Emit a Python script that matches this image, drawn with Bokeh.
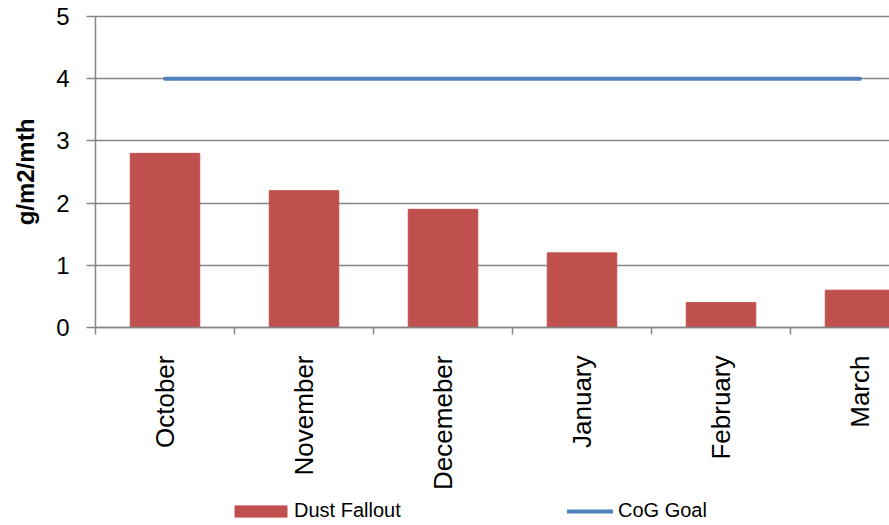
import math
from bokeh.plotting import figure
from bokeh.models import Range1d, FixedTicker, Legend, LegendItem, Label
from bokeh.embed import file_html
from bokeh.resources import INLINE

# Monthly dust fallout against the CoG goal
months = ["October", "November", "Decemeber", "January", "February", "March"]
dust_fallout = [2.8, 2.2, 1.9, 1.2, 0.4, 0.6]
cog_goal = [4, 4, 4, 4, 4, 4]
y_ticks = [0, 1, 2, 3, 4, 5]
y_title = "g/m2/mth"

centers = [i + 0.5 for i in range(len(months))]
boundaries = list(range(len(months) + 1))

FONT = "Liberation Sans"
GRID = "#868686"

# the frame fills the whole page; both axes are pinned at zero so the
# tick labels, the y title and the legend all sit inside it
unit_x = 139      # px per category
unit_y = 311 / 5  # px per g/m2/mth
plot_w = 794      # px from the y axis to the right edge
p = figure(width=889, height=525, output_backend="svg", toolbar_location=None,
           x_range=Range1d(-95 / unit_x, plot_w / unit_x),
           y_range=Range1d(-198 / unit_y, 5 + 16 / unit_y),
           min_border_left=0, min_border_right=0, min_border_top=0,
           min_border_bottom=0)
p.outline_line_color = None
p.background_fill_color = "white"
p.border_fill_color = "white"
p.xgrid.grid_line_color = None
p.ygrid.grid_line_color = None

bars = p.vbar(x=centers, top=dust_fallout, width=0.5, bottom=0,
              fill_color="#C0504D", line_color="#C0504D")
goal = p.line(x=centers, y=cog_goal, line_color="#4F81BD", line_width=4,
              line_cap="round")

# x axis: labels at category centres, tick marks between categories
xa = p.xaxis[0]
xa.fixed_location = 0
xa.bounds = (0, plot_w / unit_x)
xa.ticker = FixedTicker(ticks=centers, minor_ticks=boundaries)
xa.major_label_overrides = {c: m for c, m in zip(centers, months)}
xa.major_label_orientation = math.pi / 2
xa.major_tick_line_color = None
xa.major_tick_out = 0
xa.major_tick_in = 0
xa.minor_tick_line_color = GRID
xa.minor_tick_line_width = 1.5
xa.minor_tick_out = 7
xa.minor_tick_in = 0
xa.axis_line_color = GRID
xa.axis_line_width = 1.5
xa.major_label_standoff = 21
xa.major_label_text_font = FONT
xa.major_label_text_font_size = "26px"
xa.major_label_text_color = "black"

# y axis: its inner ticks run across the plot and serve as gridlines,
# so it is drawn beneath the bars and the goal line
ya = p.yaxis[0]
ya.level = "underlay"
ya.fixed_location = 0
ya.bounds = (0, 5)
ya.ticker = FixedTicker(ticks=y_ticks)
ya.minor_tick_line_color = None
ya.major_tick_line_color = GRID
ya.major_tick_line_width = 1.5
ya.major_tick_out = 9
ya.major_tick_in = plot_w
ya.axis_line_color = GRID
ya.axis_line_width = 1.5
ya.major_label_standoff = 17
ya.major_label_text_font = FONT
ya.major_label_text_font_size = "24px"
ya.major_label_text_color = "black"

p.add_layout(Label(x=25, y=2.5, x_units="screen", text=y_title,
                   angle=math.pi / 2, text_align="center",
                   text_baseline="middle", text_font=FONT,
                   text_font_size="24px", text_font_style="bold",
                   text_color="black"))

legend_style = dict(orientation="horizontal", border_line_color=None,
                    background_fill_alpha=0, padding=0, margin=0,
                    label_height=20, label_text_font=FONT,
                    label_text_font_size="20px", label_text_color="black")
bar_legend = Legend(items=[LegendItem(label="Dust Fallout", renderers=[bars])],
                    location=(228, 3), glyph_width=65, glyph_height=14,
                    label_standoff=1, **legend_style)
line_legend = Legend(items=[LegendItem(label="CoG Goal", renderers=[goal])],
                     location=(567, 3), glyph_width=46, glyph_height=14,
                     label_standoff=5, **legend_style)
p.add_layout(bar_legend, "center")
p.add_layout(line_legend, "center")

open("out.html", "w").write(file_html(p, INLINE))
